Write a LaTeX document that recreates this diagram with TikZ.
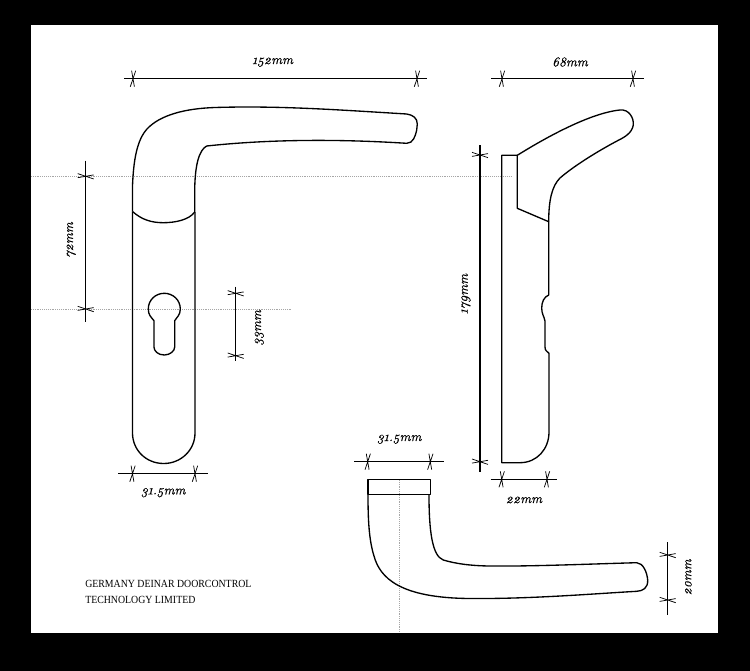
\documentclass[tikz,border=0pt]{standalone}
\usepackage{fontspec}
\newfontfamily\dimfont{Latin Modern Roman}[Numbers=OldStyle,ItalicFeatures={FakeBold=.35}]
\newfontfamily\namefont{Liberation Serif}[FakeStretch=.9]
\tikzset{
	outline/.style={line width=1pt,line join=round},
	dimline/.style={line width=.85pt},
	tickline/.style={line width=.55pt},
	guide/.style={line width=.4pt,gray!70,densely dotted},
	dimlabel/.style={font=\dimfont\itshape\fontsize{10}{12}\selectfont,inner sep=0pt},
	sidelabel/.style={dimlabel,rotate=90}
}
\begin{document}
\begin{tikzpicture}[x=.75pt,y=-.75pt]
			% draw sheet
			\fill[black] (0,0) rectangle (750,671);
			\useasboundingbox (0,0) rectangle (750,671);
			\fill[white] (31,25) rectangle (718,632.5);
			
			% draw guides
			\coordinate (gtl) at (31,176.5);
			\coordinate (gtr) at (512,176.5);
			\coordinate (gml) at (31,309);
			\coordinate (gmr) at (292,309);
			\coordinate (gvt) at (399.7,480);
			\coordinate (gvb) at (399.7,632);
			\draw[guide] (gtl) -- (gtr);
			\draw[guide] (gml) -- (gmr);
			\draw[guide] (gvt) -- (gvb);
			
			% draw front view
			\draw[outline] (132.5,211.5) -- (132.5,433) .. controls (132.5,450) and (146,463.5) .. (163.7,463.5) .. controls (181,463.5) and (195,450) .. (195,433) -- (195,212);
			\draw[outline] (132.5,211.5) .. controls (142,220) and (152,222.7) .. (163.3,222.7) .. controls (175,222.7) and (189,220) .. (194.7,212);
			\draw[outline] (132.5,211.5) -- (132.5,186) .. controls (133.5,160) and (137,140) .. (147,129) .. controls (160,115) and (185,108.5) .. (215,107.5) .. controls (280,105.5) and (340,110) .. (406.7,114) .. controls (413,115) and (417.3,118) .. (417.3,124) -- (416.7,130) .. controls (415.5,136) and (413,143.5) .. (406.7,143.3) .. controls (370,141) and (290,137) .. (206.7,146) .. controls (199,150) and (195,165) .. (194.7,190) -- (194.7,212);
			% draw keyhole
			\draw[outline] (154,320.7) .. controls (151,317) and (148.3,315) .. (148.3,309) .. controls (148.3,300) and (155.5,293.3) .. (164.3,293.3) .. controls (173,293.3) and (180.3,300) .. (180.3,309) .. controls (180.3,315) and (177,317) .. (174.7,320.7) -- (174.7,347) .. controls (174.7,351) and (170,355) .. (164.3,355) .. controls (158,355) and (154,351) .. (154,347) -- cycle;
			
			% draw side view
			\draw[outline] (517.3,155.3) -- (501.7,155.3) -- (501.7,462.7) -- (520,462.7) .. controls (537,462.7) and (549,449) .. (549,432) -- (549,353.3) .. controls (547,351) and (545,351) .. (545,347) -- (545,321) .. controls (544,316) and (541.7,314) .. (541.7,308) .. controls (541.7,302) and (544,297) .. (548.7,295) -- (548.7,221.7) -- (517.3,208.3) -- cycle;
			\draw[outline] (517.3,155.3) .. controls (545,138) and (590,113) .. (620,110) .. controls (629,109) and (634,118) .. (633.3,125) .. controls (632,133) and (625,137) .. (617,141) .. controls (600,150) and (575,165) .. (560,178) .. controls (552,186) and (548.7,200) .. (548.7,221.7);
			
			% draw bottom view
			\draw[outline] (368,479.7) rectangle (430.3,494.7);
			\draw[outline] (368,494.7) .. controls (368,520) and (369,540) .. (374,556) .. controls (380,578) and (400,598) .. (470,598.5) .. controls (530,599) and (590,594) .. (636.7,591.3) .. controls (643,591) and (648,588) .. (647.7,580) .. controls (647,572) and (643,563) .. (636.7,562.7) .. controls (590,564) and (530,566.5) .. (490,566) .. controls (470,565.8) and (455,563.5) .. (443.3,560) .. controls (432,556) and (429,530) .. (429,494.7);
			
			% draw dimension lines
			\coordinate (wa) at (124,78.7);
			\coordinate (wb) at (427,78.7);
			\coordinate (wc) at (133,78.7);
			\coordinate (wd) at (417,78.7);
			\coordinate (sa) at (491.3,78.7);
			\coordinate (sb) at (643.7,78.7);
			\coordinate (sc) at (502,78.7);
			\coordinate (sd) at (633,78.7);
			\coordinate (pa) at (118.3,473.7);
			\coordinate (pb) at (208.3,473.7);
			\coordinate (pc) at (132.5,473.7);
			\coordinate (pd) at (195,473.7);
			\coordinate (da) at (490.7,479.3);
			\coordinate (db) at (557.3,479.3);
			\coordinate (dc) at (501.7,479.3);
			\coordinate (dd) at (547,479.3);
			\coordinate (ca) at (354,461.7);
			\coordinate (cb) at (444,461.7);
			\coordinate (cc) at (367.7,461.7);
			\coordinate (cd) at (430.3,461.7);
			\coordinate (ha) at (85.7,160.7);
			\coordinate (hb) at (85.7,322.3);
			\coordinate (hc) at (85.7,176.3);
			\coordinate (hd) at (85.7,309);
			\coordinate (ka) at (235.7,286.7);
			\coordinate (kb) at (235.7,360.7);
			\coordinate (kc) at (235.7,293.3);
			\coordinate (kd) at (235.7,355.7);
			\coordinate (ta) at (480,145);
			\coordinate (tb) at (480,471.7);
			\coordinate (tc) at (480,155);
			\coordinate (td) at (480,461.7);
			\coordinate (ea) at (667.7,542.3);
			\coordinate (eb) at (667.7,615);
			\coordinate (ec) at (667.7,555);
			\coordinate (ed) at (667.7,600);
			\foreach \a/\b in {wa/wb,sa/sb,pa/pb,da/db,ca/cb,ha/hb,ka/kb,ta/tb,ea/eb}
				\draw[dimline] (\a) -- (\b);
			% ticks across horizontal lines
			\foreach \t in {wc,wd,sc,sd,pc,pd,dc,dd,cc,cd}
				\draw[tickline] ([shift={(2.7,-8)}]\t) -- ([shift={(-2.7,8)}]\t) ([shift={(-1.4,-8)}]\t) -- ([shift={(1.4,8)}]\t);
			% ticks across vertical lines
			\foreach \t in {hc,hd,kc,kd,tc,td,ec,ed}
				\draw[tickline] ([shift={(-8,-2.7)}]\t) -- ([shift={(8,2.7)}]\t) ([shift={(-8,1.4)}]\t) -- ([shift={(8,-1.4)}]\t);
			
			% draw labels
			\node[dimlabel] (lwidth) at (272.7,62.3) {152mm};
			\node[dimlabel] (lside) at (570,62) {68mm};
			\node[dimlabel] (lplate) at (163.3,492.7) {31.5mm};
			\node[dimlabel] (lcap) at (399.3,439.3) {31.5mm};
			\node[dimlabel] (ldepth) at (524,500) {22mm};
			\node[sidelabel] (lhigh) at (71.3,240) {72mm};
			\node[sidelabel] (lkey) at (259.3,327.7) {33mm};
			\node[sidelabel] (ltotal) at (466,294) {179mm};
			\node[sidelabel] (lbar) at (688.3,577.3) {20mm};
			\node[anchor=west,inner sep=0pt,align=left,font=\namefont\fontsize{8.2}{12}\selectfont] (lname) at (85,592) {GERMANY DEINAR DOORCONTROL\\TECHNOLOGY LIMITED};
			
		\end{tikzpicture}
\end{document}
